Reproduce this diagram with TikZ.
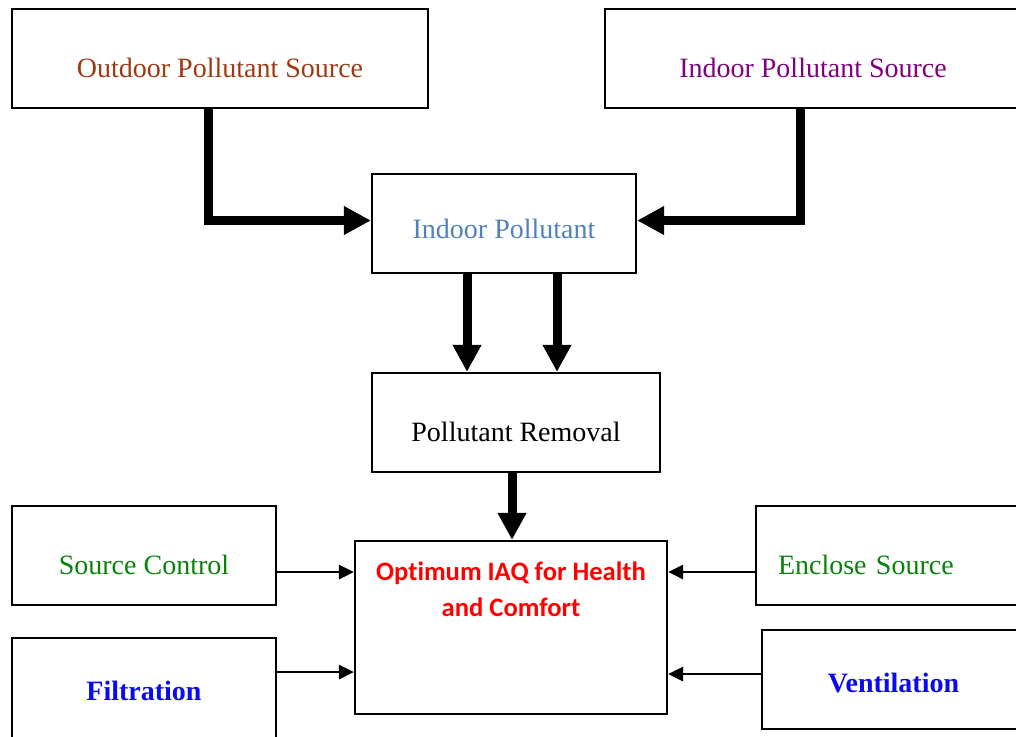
\documentclass[tikz,border=0pt]{standalone}
\usepackage{fontspec}
\setmainfont{Liberation Serif}
\newfontfamily\calfont[Ligatures=NoCommon]{Carlito}
\usetikzlibrary{arrows.meta}

\definecolor{outbrown}{RGB}{158,58,16}
\definecolor{inpurple}{RGB}{128,0,128}
\definecolor{ipblue}{RGB}{79,129,189}
\definecolor{ctrlgreen}{RGB}{10,130,10}
\definecolor{methblue}{RGB}{10,10,240}
\definecolor{goalred}{RGB}{255,0,0}

\begin{document}
\begin{tikzpicture}[x=0.5pt, y=-0.5pt,
  block/.style={rectangle, draw, line width=1.1pt, minimum width=#1,
                minimum height=49.5pt, inner sep=0pt,
                font=\fontsize{14}{16}\selectfont,
                text height=18.8pt, text depth=0pt},
  block/.default=132pt,
  bigarr/.style={-{Triangle[length=13.5pt,width=13.5pt]}, line width=4.5pt},
  arr/.style={-{Triangle[length=7.5pt,width=7pt]}, line width=1.4pt}
]
  \useasboundingbox (0,0) rectangle (1016,736);
  \clip (0,0) rectangle (1016,736);

  % Sources
  \node[block=208pt, text=outbrown] (out) at (220,58.5) {Outdoor Pollutant Source};
  \node[block=208pt, text=inpurple] (ins) at (813,58.5) {Indoor Pollutant Source};

  % Indoor pollutant
  \node[block, text=ipblue, text height=14.8pt] (ip) at (504,223.5) {Indoor Pollutant};
  \draw[bigarr] ([xshift=-6pt]out.south) |- ([yshift=1.5pt]ip.west);
  \draw[bigarr] ([xshift=-6.5pt]ins.south) |- ([yshift=1.5pt]ip.east);

  % Removal
  \node[block=144pt] (rem) at (516,422.5) {Pollutant Removal};
  \draw[bigarr] ([xshift=-18.5pt]ip.south) -- ([xshift=-18.5pt]ip.south |- rem.north);
  \draw[bigarr] ([xshift=26.5pt]ip.south) -- ([xshift=26.5pt]ip.south |- rem.north);

  % Goal
  \node[block=156pt, minimum height=86.5pt, align=center, text=goalred,
        font=\calfont\bfseries\fontsize{13.3}{18}\selectfont,
        text height=10pt, text depth=20.9pt] (iaq) at (511,627.5)
        {Optimum IAQ for Health\\and Comfort};
  \draw[bigarr] ([xshift=-2pt]rem.south) -- ([xshift=-2pt]rem.south |- iaq.north);

  % Control methods
  \node[block, text=ctrlgreen] (ctrl) at (144,555.5) {Source Control};
  \node[block, minimum height=53.5pt, text=methblue, text height=9.3pt,
        font=\fontsize{14}{16}\selectfont\bfseries] (filt) at (144,691.5) {Filtration};
  \node[block, text=ctrlgreen, text width=115pt, inner xsep=11pt,
        align=left] (encl) at (893,555.5) {Enclose Source};
  \node[block=131.5pt, text=methblue, text height=12.8pt,
        font=\fontsize{14}{16}\selectfont\bfseries] (vent) at (893.5,679.5) {Ventilation};

  \draw[arr] ([yshift=-8.25pt]ctrl.east) -- ([yshift=-8.25pt]ctrl.east -| iaq.west);
  \draw[arr] ([yshift=9.75pt]filt.east) -- ([yshift=9.75pt]filt.east -| iaq.west);
  \draw[arr] ([yshift=-8.25pt]encl.west) -- ([yshift=-8.25pt]encl.west -| iaq.east);
  \draw[arr] ([yshift=2.75pt]vent.west) -- ([yshift=2.75pt]vent.west -| iaq.east);
\end{tikzpicture}
\end{document}
